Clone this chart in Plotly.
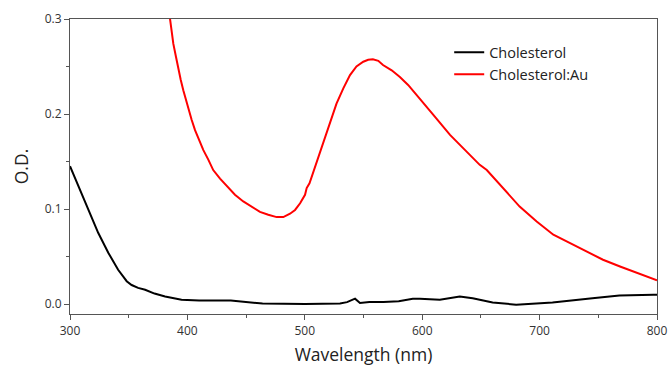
import plotly.graph_objects as go

# Cholesterol (black)
chol_wl = [300, 307, 315.6, 324, 332.6, 341, 348.3, 352.5, 358, 364, 372, 381, 395, 410, 437, 464, 500,
           530, 536, 542.8, 547, 555, 567, 580, 592, 598, 615, 632, 643, 660, 680, 711, 745, 768, 797, 800]
chol_od = [0.145, 0.124, 0.099, 0.075, 0.054, 0.036, 0.024, 0.020, 0.017, 0.015, 0.011, 0.008, 0.0045,
           0.0038, 0.0038, 0.0005, 0.0, 0.0005, 0.002, 0.0056, 0.001, 0.002, 0.0022, 0.003, 0.0055, 0.0056,
           0.0045, 0.008, 0.006, 0.0017, -0.0007, 0.0017, 0.006, 0.009, 0.0098, 0.0098]

# Cholesterol:Au (red)
au_wl = [382, 385.2, 386.6, 388, 390.3, 392.3, 394.3, 396.5, 398.8, 400.8, 403.6, 406.5, 409.8, 413.6, 417.8,
         422, 427.8, 433.5, 440.5, 447.6, 454.8, 461.8, 468.9, 476, 481.7, 487.4, 491.7, 496, 500.2, 501.6,
         504, 507, 508.7, 513, 518.6, 523, 527, 532.8, 538.5, 544, 549.8, 554, 558, 562.6, 566.6, 574, 581,
         588, 595, 609.5, 623.7, 638, 649, 655, 669, 683, 697.5, 711.7, 726, 740, 754, 768.5, 782.7, 798, 800]
au_od = [0.33, 0.300, 0.288, 0.274, 0.260, 0.246, 0.236, 0.225, 0.215, 0.204, 0.194, 0.183, 0.173, 0.162,
         0.152, 0.141, 0.132, 0.124, 0.115, 0.108, 0.102, 0.097, 0.094, 0.0915, 0.0915, 0.095, 0.099, 0.106,
         0.115, 0.122, 0.127, 0.138, 0.143, 0.160, 0.180, 0.196, 0.211, 0.227, 0.241, 0.250, 0.255, 0.257,
         0.2576, 0.256, 0.2516, 0.246, 0.239, 0.2306, 0.220, 0.199, 0.178, 0.160, 0.1465, 0.141, 0.122,
         0.1026, 0.0869, 0.0729, 0.0641, 0.0553, 0.0466, 0.0395, 0.0326, 0.0255, 0.025]

x_ticks = [300, 400, 500, 600, 700, 800]
y_ticks = [0.0, 0.1, 0.2, 0.3]
y_tick_text = ["0.0", "0.1", "0.2", "0.3"]

FONT = "Open Sans"

fig = go.Figure()
fig.add_trace(go.Scatter(x=chol_wl, y=chol_od, mode="lines", name="Cholesterol",
                         line=dict(color="#000000", width=2)))
fig.add_trace(go.Scatter(x=au_wl, y=au_od, mode="lines", name="Cholesterol:Au",
                         line=dict(color="#ff0000", width=2)))

axis_common = dict(showgrid=False, zeroline=False, showline=True, linecolor="#555555", linewidth=1.2,
                   mirror=True, ticks="outside", ticklen=5, tickcolor="#555555", tickwidth=1,
                   automargin=False, ticklabeloverflow="allow",
                   tickfont=dict(family=FONT, size=12, color="#333333"))

fig.update_xaxes(range=[300, 800], tickvals=x_ticks,
                 minor=dict(ticks="outside", ticklen=3, tickcolor="#555555", dtick=50, tick0=300),
                 title=dict(text="Wavelength (nm)", font=dict(family=FONT, size=17.5, color="#222222"),
                            standoff=11),
                 **axis_common)
fig.update_yaxes(range=[-0.0105, 0.3], tickvals=y_ticks, ticktext=y_tick_text,
                 minor=dict(ticks="outside", ticklen=3, tickcolor="#555555", dtick=0.05, tick0=0),
                 title=dict(text="O.D.", font=dict(family=FONT, size=17.5, color="#222222"), standoff=11),
                 **axis_common)

fig.update_layout(
    width=669, height=369,
    margin=dict(l=70, r=12, t=19, b=55),
    paper_bgcolor="white", plot_bgcolor="white",
    font=dict(family=FONT, size=14.5, color="#222222"),
    legend=dict(x=0.646, y=0.941, xanchor="left", yanchor="top", bgcolor="rgba(0,0,0,0)",
                font=dict(family=FONT, size=14.5, color="#222222"), tracegroupgap=0),
    showlegend=True,
)

# remove the default page margin so the 669x369 figure fills the window exactly
fig.write_html("out.html", config={"displayModeBar": False},
               post_script="document.body.style.margin='0';document.body.style.overflow='hidden';")
